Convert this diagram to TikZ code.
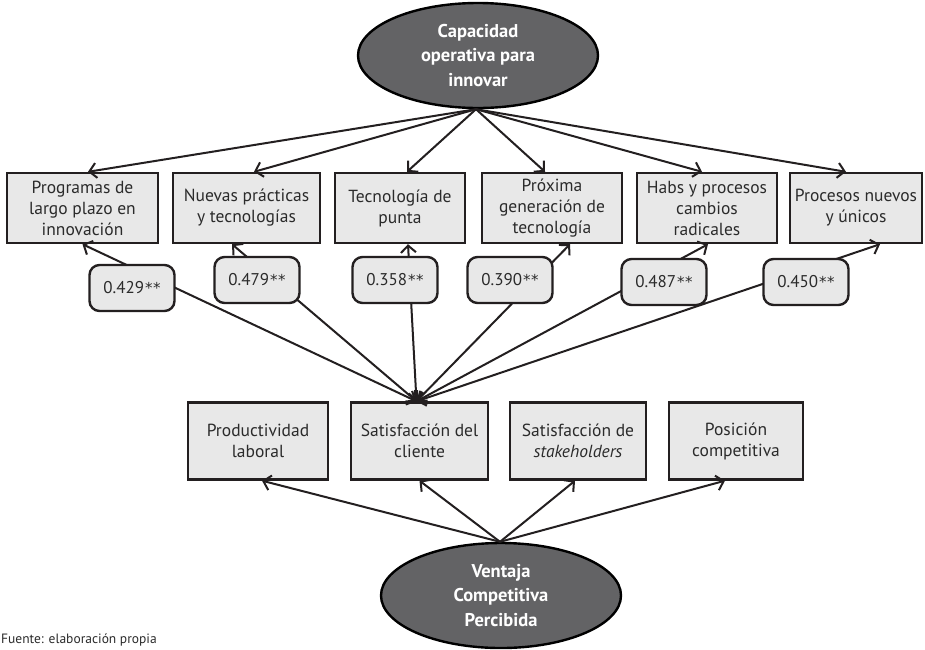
\documentclass[tikz,border=0pt]{standalone}
\usepackage{fontspec}
\setmainfont{PT Sans}
\newfontfamily\starfont{DejaVu Sans}
\usetikzlibrary{arrows.meta,shapes.geometric}
\definecolor{boxfill}{HTML}{E8E8E8}
\definecolor{ink}{HTML}{231F20}
\definecolor{ovalfill}{HTML}{636365}
\definecolor{txt}{HTML}{2B2B2B}
\newcommand{\signif}{{\starfont\fontsize{15}{18}\selectfont\kern1pt*\kern0.5pt*}}

\begin{document}
\begin{tikzpicture}[x=1pt,y=-1pt,
  item/.style={draw=ink, line width=2.4pt, fill=boxfill, rectangle, inner sep=0pt,
    align=center, text=txt, font=\fontsize{17.5}{21}\selectfont},
  coef/.style={draw=ink, line width=2.4pt, fill=boxfill, rounded corners=10pt,
    minimum width=85pt, minimum height=46pt, inner sep=0pt, text=txt,
    font=\fontsize{17}{18}\selectfont},
  latent/.style={draw=black, line width=2.4pt, fill=ovalfill, ellipse,
    minimum width=240pt, minimum height=105pt, inner sep=0pt, align=center,
    text=white, font=\bfseries\fontsize{18.5}{24.5}\selectfont},
  barb/.tip={Straight Barb[length=7pt,width=15pt,line width=2pt]},
  link/.style={draw=ink, line width=2pt, -barb},
  twoway/.style={draw=ink, line width=2pt, barb-barb},
]
\fill[white] (0,0) rectangle (925,649);
\useasboundingbox (0,0) rectangle (925,649);

% latent constructs
\node[latent] (cap) at (478,55.5) {Capacidad\\operativa para\\innovar};
\node[latent] (vcp) at (501,595.5) {Ventaja\\Competitiva\\Percibida};

% indicators of the innovation capacity
\node[item, minimum width=151pt, minimum height=70pt] (b1) at (82.5,208) {Programas de\\largo plazo en\\innovación};
\node[item, minimum width=147pt, minimum height=70pt] (b2) at (246.5,208) {Nuevas prácticas\\y tecnologías};
\node[item, minimum width=130pt, minimum height=70pt] (b3) at (400,208) {Tecnología de\\punta};
\node[item, minimum width=140pt, minimum height=70pt] (b4) at (552,208) {Próxima\\generación de\\tecnología};
\node[item, minimum width=140pt, minimum height=70pt] (b5) at (707,208) {Habs y procesos\\cambios\\radicales};
\node[item, minimum width=132pt, minimum height=70pt] (b6) at (856,208) {Procesos nuevos\\y únicos};

% indicators of the competitive advantage
\node[item, minimum width=140pt, minimum height=77pt] (p1) at (258,441) {Productividad\\laboral};
\node[item, minimum width=137pt, minimum height=77pt] (p2) at (419.5,441) {Satisfacción del\\cliente};
\node[item, minimum width=136pt, minimum height=77pt] (p3) at (578,441) {Satisfacción de\\\textit{stakeholders}};
\node[item, minimum width=134pt, minimum height=77pt] (p4) at (736,441) {Posición\\competitiva};

% loadings from the upper construct
\coordinate (capout) at ([xshift=-2pt]cap.south);
\draw[link] (capout) -- ([xshift=5.5pt]b1.north);
\draw[link] (capout) -- ([xshift=7.5pt]b2.north);
\draw[link] (capout) -- ([xshift=7pt]b3.north);
\draw[link] (capout) -- ([xshift=-7pt]b4.north);
\draw[link] (capout) -- ([xshift=-5pt]b5.north);
\draw[link] (capout) -- ([xshift=-10pt]b6.north);

% loadings from the lower construct
\coordinate (vcpout) at ([xshift=-1pt]vcp.north);
\draw[link] (vcpout) -- ([xshift=4pt]p1.south);
\draw[link] (vcpout) -- (p2.south);
\draw[link] (vcpout) -- ([xshift=-3pt]p3.south);
\draw[link] (vcpout) -- ([xshift=-11pt]p4.south);

% correlations with customer satisfaction
\coordinate (hub) at ([xshift=-3pt]p2.north);
\draw[twoway] (b1.south) -- (hub);
\draw[twoway] ([xshift=-14.5pt]b2.south) -- (hub);
\draw[twoway] ([xshift=8pt]b3.south) -- (hub);
\draw[twoway] ([xshift=18pt]b4.south) -- (hub);
\draw[twoway] ([xshift=1pt]b5.south) -- (hub);
\draw[twoway] ([xshift=24pt]b6.south) -- (hub);

% coefficient labels
\node[coef] (c1) at (132,288) {0.429\signif};
\node[coef] (c2) at (257,280) {0.479\signif};
\node[coef] (c3) at (395,280) {0.358\signif};
\node[coef] (c4) at (510,280) {0.390\signif};
\node[coef] (c5) at (664,282) {0.487\signif};
\node[coef] (c6) at (806,282) {0.450\signif};

% source note
\node[anchor=base west, inner sep=0pt, text=txt, font=\fontsize{13.5}{15}\selectfont] (src) at (1,643.5) {Fuente: elaboración propia};
\end{tikzpicture}
\end{document}
